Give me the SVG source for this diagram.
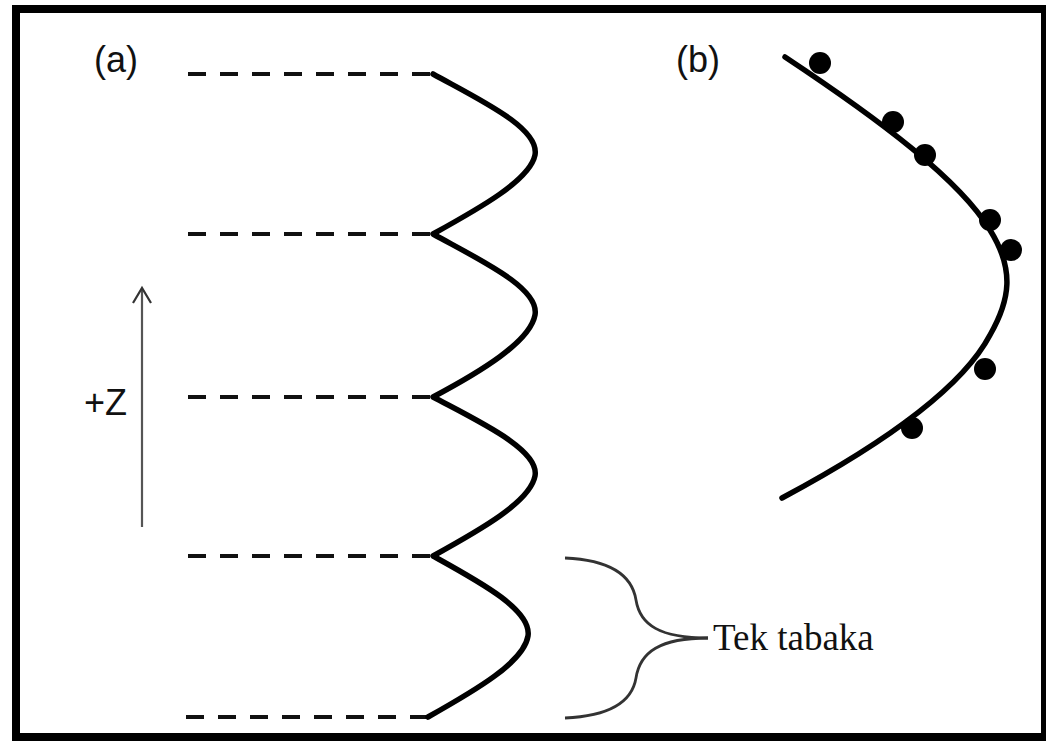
<svg xmlns="http://www.w3.org/2000/svg" width="1046" height="742" viewBox="0 0 1046 742">
<style>
.dash{stroke:#111;stroke-width:4;stroke-dasharray:18 14;fill:none}
.wave{stroke:#000;stroke-width:5.5;fill:none;stroke-linejoin:round;stroke-linecap:round}
.lbl{font-family:"Liberation Sans",Arial,sans-serif;font-size:36px;fill:#111}
.brace{stroke:#333;stroke-width:2.8;fill:none}
.dot{fill:#000}
</style>
<rect x="0" y="0" width="1046" height="742" fill="#fff"/>
<rect x="16" y="9" width="1029" height="728" fill="none" stroke="#000" stroke-width="8"/>
<g id="panel-a">
  <text class="lbl" x="94" y="72">(a)</text>
  <g id="layer-lines">
    <line class="dash" x1="188" y1="74" x2="432" y2="74"/>
    <line class="dash" x1="188" y1="234" x2="432" y2="234"/>
    <line class="dash" x1="188" y1="397" x2="432" y2="397"/>
    <line class="dash" x1="188" y1="556" x2="432" y2="556"/>
    <line class="dash" x1="186" y1="717" x2="430" y2="717"/>
  </g>
  <path id="wave" class="wave" d="M433,74 C480,100 540,128 535,155 C530,180 480,208 433,234 C480,260 540,288 535,315 C530,342 480,372 433,397 C480,422 540,450 535,476 C530,502 480,530 433,556 C480,582 532,610 528,636 C524,662 476,690 428,717"/>
  <g id="z-axis">
    <line x1="142" y1="527" x2="142" y2="289" stroke="#555" stroke-width="2.2"/>
    <polyline points="133,303 142,288 151,303" fill="none" stroke="#333" stroke-width="2.2"/>
    <text class="lbl" x="84" y="415">+Z</text>
  </g>
  <g id="brace-label">
    <path class="brace" d="M565,558 C610,560 632,575 636,600 C640,625 660,638 708,638"/>
    <path class="brace" d="M565,718 C610,716 632,702 636,678 C640,652 660,638 708,638"/>
    <text x="713" y="650" font-family="Liberation Serif,'Times New Roman',serif" font-size="37" fill="#111">Tek tabaka</text>
  </g>
</g>
<g id="panel-b">
  <text class="lbl" x="676" y="72">(b)</text>
  <path id="fit-curve" class="wave" d="M785,57 C880,120 960,180 990,230 C1015,270 1010,300 990,335 C962,388 885,443 782,498"/>
  <g id="points">
    <circle class="dot" cx="820" cy="63" r="11"/>
    <circle class="dot" cx="893" cy="122" r="11"/>
    <circle class="dot" cx="925" cy="155" r="11"/>
    <circle class="dot" cx="990" cy="220" r="11"/>
    <circle class="dot" cx="1011" cy="250" r="11"/>
    <circle class="dot" cx="985" cy="369" r="11"/>
    <circle class="dot" cx="912" cy="428" r="11"/>
  </g>
</g>
</svg>
